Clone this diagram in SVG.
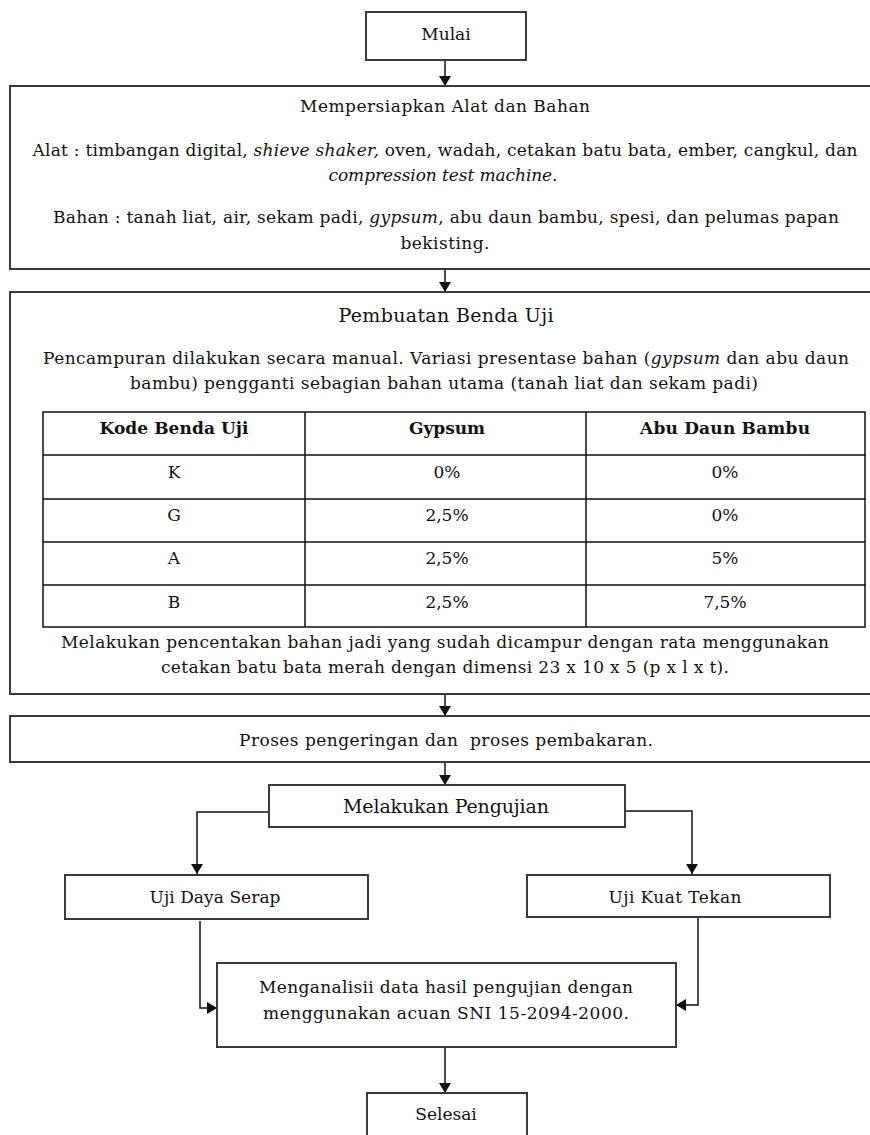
<svg xmlns="http://www.w3.org/2000/svg" width="870" height="1135" viewBox="0 0 870 1135">
<style>
.box{fill:#fff;stroke:#3a3a3a;stroke-width:2}
.tbl{fill:none;stroke:#111;stroke-width:1.5}
.t{font-family:"DejaVu Serif","Liberation Serif",serif;font-size:17px;fill:#111;text-anchor:middle}
.h{font-size:19px}
.b{font-weight:bold}
.i{font-style:italic}
.pre{white-space:pre}
.c{fill:none;stroke:#111;stroke-width:1.5}
</style>
<defs>
<marker id="ah" viewBox="0 0 10 12" refX="10" refY="6" markerWidth="10" markerHeight="12" markerUnits="userSpaceOnUse" orient="auto">
<path d="M0,0 L10,6 L0,12 z" fill="#111"/>
</marker>
</defs>
<rect width="870" height="1135" fill="#fff"/>

<g id="connectors">
<line class="c" x1="445" y1="60" x2="445" y2="86" marker-end="url(#ah)"/>
<line class="c" x1="445" y1="269" x2="445" y2="292" marker-end="url(#ah)"/>
<line class="c" x1="445" y1="694" x2="445" y2="716" marker-end="url(#ah)"/>
<line class="c" x1="445" y1="762" x2="445" y2="785" marker-end="url(#ah)"/>
<polyline class="c" points="269,812 197,812 197,874" marker-end="url(#ah)"/>
<polyline class="c" points="625,811 692,811 692,874" marker-end="url(#ah)"/>
<polyline class="c" points="200,921 200,1008 217,1008" marker-end="url(#ah)"/>
<polyline class="c" points="698,918 698,1005 676,1005" marker-end="url(#ah)"/>
<line class="c" x1="445" y1="1047" x2="445" y2="1093" marker-end="url(#ah)"/>
</g>

<g id="mulai">
<rect class="box" x="366" y="12" width="160" height="48"/>
<text class="t" x="446" y="40">Mulai</text>
</g>

<g id="persiapan">
<rect class="box" x="10" y="86" width="880" height="183"/>
<text class="t" x="445" y="112" textLength="290">Mempersiapkan Alat dan Bahan</text>
<text class="t" x="445" y="156" textLength="825">Alat : timbangan digital, <tspan class="i">shieve shaker,</tspan> oven, wadah, cetakan batu bata, ember, cangkul, dan</text>
<text class="t i" x="443" y="181" textLength="229">compression test machine.</text>
<text class="t" x="446" y="223" textLength="786">Bahan : tanah liat, air, sekam padi, <tspan class="i">gypsum</tspan>, abu daun bambu, spesi, dan pelumas papan</text>
<text class="t" x="445" y="249" textLength="89">bekisting.</text>
</g>

<g id="pembuatan">
<rect class="box" x="10" y="292" width="880" height="402"/>
<text class="t h" x="446" y="322" textLength="215">Pembuatan Benda Uji</text>
<text class="t" x="446" y="364" textLength="806">Pencampuran dilakukan secara manual. Variasi presentase bahan (<tspan class="i">gypsum</tspan> dan abu daun</text>
<text class="t" x="444" y="389" textLength="628">bambu) pengganti sebagian bahan utama (tanah liat dan sekam padi)</text>
<rect class="tbl" x="43" y="412" width="822" height="215"/>
<line class="tbl" x1="43" y1="455" x2="865" y2="455"/>
<line class="tbl" x1="43" y1="499" x2="865" y2="499"/>
<line class="tbl" x1="43" y1="542" x2="865" y2="542"/>
<line class="tbl" x1="43" y1="585" x2="865" y2="585"/>
<line class="tbl" x1="305" y1="412" x2="305" y2="627"/>
<line class="tbl" x1="586" y1="412" x2="586" y2="627"/>
<text class="t b" x="174" y="434" textLength="149">Kode Benda Uji</text>
<text class="t b" x="447" y="434">Gypsum</text>
<text class="t b" x="725" y="434" textLength="170">Abu Daun Bambu</text>
<text class="t" x="174" y="478">K</text>
<text class="t" x="447" y="478">0%</text>
<text class="t" x="725" y="478">0%</text>
<text class="t" x="174" y="521">G</text>
<text class="t" x="447" y="521">2,5%</text>
<text class="t" x="725" y="521">0%</text>
<text class="t" x="174" y="564">A</text>
<text class="t" x="447" y="564">2,5%</text>
<text class="t" x="725" y="564">5%</text>
<text class="t" x="174" y="608">B</text>
<text class="t" x="447" y="608">2,5%</text>
<text class="t" x="725" y="608">7,5%</text>
<text class="t" x="445" y="648" textLength="768">Melakukan pencentakan bahan jadi yang sudah dicampur dengan rata menggunakan</text>
<text class="t" x="445" y="673" textLength="568">cetakan batu bata merah dengan dimensi 23 x 10 x 5 (p x l x t).</text>
</g>

<g id="pengeringan">
<rect class="box" x="10" y="716" width="880" height="46"/>
<text class="t pre" x="446" y="746" textLength="414">Proses pengeringan dan  proses pembakaran.</text>
</g>

<g id="pengujian">
<rect class="box" x="269" y="785" width="356" height="42"/>
<text class="t h" x="446" y="813" textLength="206">Melakukan Pengujian</text>
</g>

<g id="daya-serap">
<rect class="box" x="65" y="875" width="303" height="44"/>
<text class="t" x="215" y="903" textLength="131">Uji Daya Serap</text>
</g>

<g id="kuat-tekan">
<rect class="box" x="527" y="875" width="303" height="42"/>
<text class="t" x="675" y="903" textLength="133">Uji Kuat Tekan</text>
</g>

<g id="analisis">
<rect class="box" x="217" y="963" width="459" height="84"/>
<text class="t" x="446" y="993" textLength="374">Menganalisii data hasil pengujian dengan</text>
<text class="t" x="446" y="1019" textLength="366">menggunakan acuan SNI 15-2094-2000.</text>
</g>

<g id="selesai">
<rect class="box" x="367" y="1093" width="160" height="60"/>
<text class="t" x="446" y="1120">Selesai</text>
</g>
</svg>
